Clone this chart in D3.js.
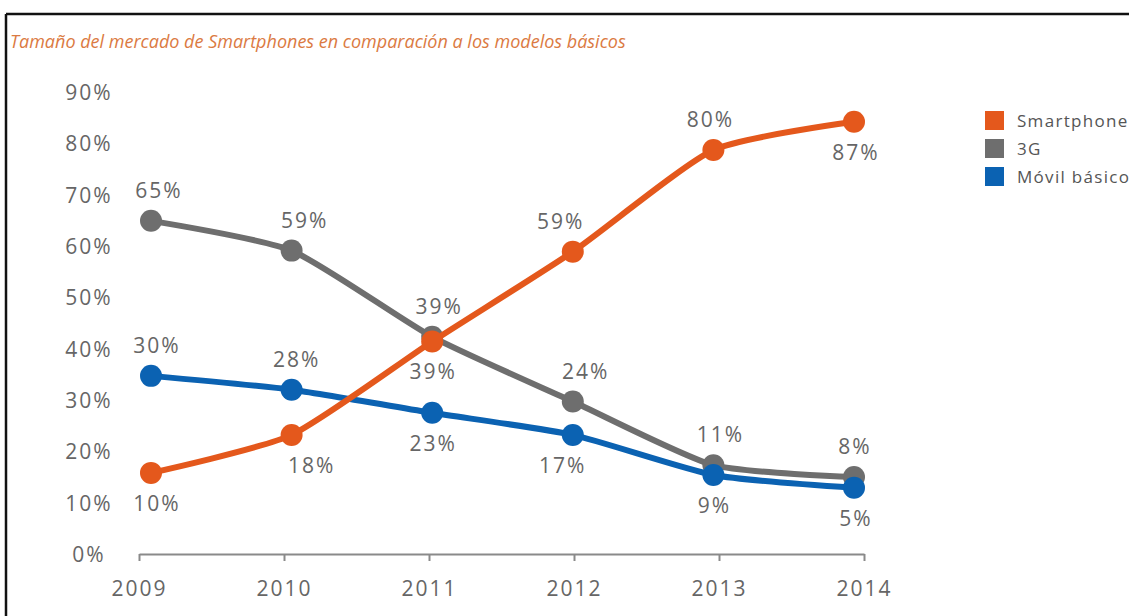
<!DOCTYPE html>
<html>
<head>
<meta charset="utf-8">
<script src="https://cdn.jsdelivr.net/npm/d3@7"></script>
<style>
  body { margin: 0; background: #fff; }
  svg { display: block; }
  .tick-label { font-family: "Open Sans", sans-serif; font-size: 21px; fill: #666; letter-spacing: 2px; }
  .val-label { font-family: "Open Sans", sans-serif; font-size: 21px; fill: #666; letter-spacing: 2px; }
  .legend-text { font-family: "Open Sans", sans-serif; font-size: 17px; fill: #555; letter-spacing: 1.3px; }
</style>
</head>
<body>
<div id="chart"></div>
<script>
// data
var years = [2009, 2010, 2011, 2012, 2013, 2014];
var yTicks = [0, 10, 20, 30, 40, 50, 60, 70, 80, 90];

var seriesNames = ["Smartphone", "3G", "Móvil básico"];
var smartphone = [15.8, 23.2, 41.4, 58.9, 78.7, 84.2];
var g3 = [64.9, 59.1, 42.3, 29.7, 17.3, 15.0];
var movil = [34.7, 32.0, 27.5, 23.2, 15.4, 12.9];

// labels printed next to each point
var smartphoneLabels = ["10%", "18%", "39%", "59%", "80%", "87%"];
var g3Labels = ["65%", "59%", "39%", "24%", "11%", "8%"];
var movilLabels = ["30%", "28%", "23%", "17%", "9%", "5%"];

var colors = ["#e4581c", "#6e6e6e", "#0b62b2"];

// where each label sits: above/below the point plus small sideways nudge
var placement = [
  [["b", 6], ["b", 20], ["b", 1], ["a", -12], ["a", -3], ["b", 2]],
  [["a", 8], ["a", 13], ["a", 7], ["a", 13], ["a", 7], ["a", 1]],
  [["a", 6], ["a", 5], ["b", 1], ["b", -10], ["b", 1], ["b", 2]]
];

var width = 1129, height = 616;

var svg = d3.select("#chart").append("svg")
    .attr("width", width)
    .attr("height", height);

// frame lines (top and left only are visible)
svg.append("line").attr("x1", 6).attr("x2", width).attr("y1", 14).attr("y2", 14)
    .attr("stroke", "#111").attr("stroke-width", 2.5);
svg.append("line").attr("x1", 6).attr("x2", 6).attr("y1", 14).attr("y2", height)
    .attr("stroke", "#111").attr("stroke-width", 2.5);

svg.append("text")
    .attr("x", 10).attr("y", 48)
    .style("font-family", "'Open Sans', sans-serif")
    .style("font-style", "italic")
    .style("font-size", "18px")
    .style("fill", "#db7a42")
    .text("Tamaño del mercado de Smartphones en comparación a los modelos básicos");

var y = d3.scaleLinear().domain([0, 90]).range([554, 92]);
var xAxisScale = d3.scaleLinear().domain([2009, 2014]).range([139, 864]);
var xPoint = d3.scalePoint().domain(years).range([151, 854]);

// y tick labels (no axis line)
svg.selectAll(".ytick")
    .data(yTicks)
    .enter()
    .append("text")
    .attr("class", "tick-label")
    .attr("x", 89)
    .attr("y", function(d) { return y(d) + 8; })
    .attr("text-anchor", "middle")
    .text(function(d) { return d + "%"; });

// x axis
var xAxis = d3.axisBottom(xAxisScale)
    .tickValues(years)
    .tickFormat(d3.format("d"))
    .tickSize(7)
    .tickSizeOuter(0);
var gx = svg.append("g")
    .attr("transform", "translate(0," + y(0) + ")")
    .call(xAxis);
gx.select(".domain").attr("stroke", "#8a8a8a").attr("stroke-width", 2);
gx.selectAll(".tick line").attr("stroke", "#8a8a8a").attr("stroke-width", 2);
gx.selectAll(".tick text")
    .attr("class", "tick-label")
    .attr("y", 42)
    .attr("dy", 0);
gx.attr("font-size", null).attr("font-family", null);

var series = [smartphone, g3, movil];
var labels = [smartphoneLabels, g3Labels, movilLabels];

var line = d3.line()
    .x(function(d, i) { return xPoint(years[i]); })
    .y(function(d) { return y(d); })
    .curve(d3.curveCardinal.tension(0.4));

// draw lines in reverse so smartphone ends on top
[1, 2, 0].forEach(function(s) {
  var g = svg.append("g").attr("class", "series");
  g.append("path")
    .datum(series[s])
    .attr("d", line)
    .attr("fill", "none")
    .attr("stroke", colors[s])
    .attr("stroke-width", 6)
    .attr("stroke-linejoin", "round");
  g.selectAll("circle")
    .data(series[s])
    .enter()
    .append("circle")
    .attr("cx", function(d, i) { return xPoint(years[i]); })
    .attr("cy", function(d) { return y(d); })
    .attr("r", 11)
    .attr("fill", colors[s]);
});

// value labels
series.forEach(function(vals, s) {
  svg.selectAll(".lab" + s)
    .data(vals)
    .enter()
    .append("text")
    .attr("class", "val-label")
    .attr("text-anchor", "middle")
    .attr("x", function(d, i) { return xPoint(years[i]) + placement[s][i][1]; })
    .attr("y", function(d, i) {
      return placement[s][i][0] == "a" ? y(d) - 23 : y(d) + 38;
    })
    .text(function(d, i) { return labels[s][i]; });
});

// legend
var legend = svg.append("g").attr("transform", "translate(985,111)");
seriesNames.forEach(function(name, i) {
  legend.append("rect")
    .attr("x", 0).attr("y", i * 28)
    .attr("width", 19).attr("height", 19)
    .attr("fill", colors[i]);
  legend.append("text")
    .attr("class", "legend-text")
    .attr("x", 32).attr("y", i * 28 + 16)
    .text(name);
});
</script>
</body>
</html>
